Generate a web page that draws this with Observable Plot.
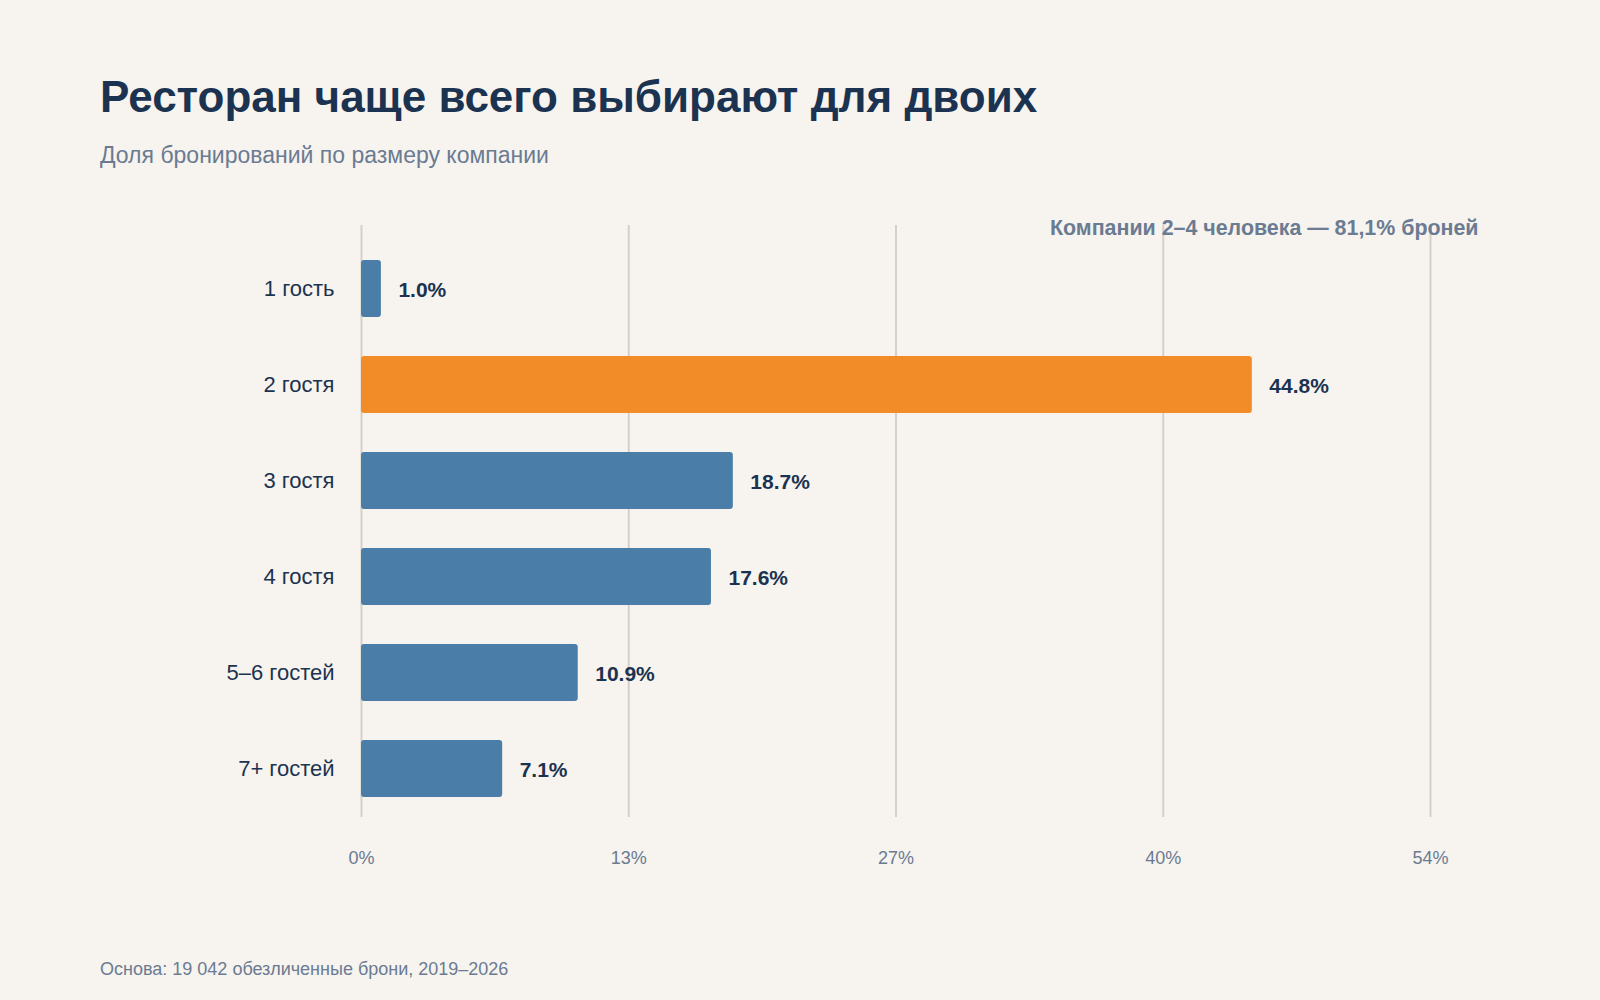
<!DOCTYPE html>
<html lang="ru">
<head>
<meta charset="utf-8">
<script src="https://cdn.jsdelivr.net/npm/d3@7"></script>
<script src="https://cdn.jsdelivr.net/npm/@observablehq/plot@0.6"></script>
<style>
  html, body { margin: 0; padding: 0; background: #f7f3ee; }
  body { width: 1600px; height: 1000px; position: relative; overflow: hidden;
         font-family: Arial, Helvetica, sans-serif; }
  .title { position: absolute; left: 100px; top: 75px; margin: 0; font-size: 44px; line-height: 44px;
           font-weight: 700; color: #1b3350; white-space: nowrap; }
  .subtitle { position: absolute; left: 100px; top: 143.5px; margin: 0; font-size: 23px; line-height: 23px;
              color: #6a7b92; white-space: nowrap; }
  #chart { position: absolute; left: 0; top: 190px; }
  .caption { position: absolute; left: 100px; top: 960px; margin: 0; font-size: 18px; line-height: 18px;
             color: #6a7b92; white-space: nowrap; }
</style>
</head>
<body>
<h1 class="title">Ресторан чаще всего выбирают для двоих</h1>
<div class="subtitle">Доля бронирований по размеру компании</div>
<div id="chart"></div>
<div class="caption">Основа: 19 042 обезличенные брони, 2019–2026</div>
<script>
const categories = ["1 гость", "2 гостя", "3 гостя", "4 гостя", "5–6 гостей", "7+ гостей"];
const shares = [1.0, 44.8, 18.7, 17.6, 10.9, 7.1];
const highlight = "2 гостя";
const tickValues = [0, 13.44, 26.88, 40.32, 53.76];
const tickLabels = ["0%", "13%", "27%", "40%", "54%"];
const annotation = "Компании 2–4 человека — 81,1% броней";

const data = categories.map((c, i) => ({category: c, share: shares[i]}));
const labelOf = new Map(tickValues.map((v, i) => [v, tickLabels[i]]));

const BLUE = "#4a7ea8", ORANGE = "#f28c28", DARK = "#1b3350", GRAY = "#6a7b92", GRID = "#d6d0c8";

const chart = Plot.plot({
  width: 1600,
  height: 700,
  marginLeft: 361,
  marginRight: 170,
  marginTop: 49.7,
  marginBottom: 73,
  style: {background: "transparent", fontFamily: "Arial, Helvetica, sans-serif"},
  x: {domain: [0, tickValues[tickValues.length - 1]], axis: null},
  y: {domain: categories, paddingInner: 0.41, paddingOuter: 0.21, axis: null},
  marks: [
    Plot.gridX(tickValues, {stroke: GRID, strokeOpacity: 1, strokeWidth: 2, insetTop: -14.7}),
    Plot.axisX(tickValues, {tickSize: 0, tickPadding: 34, fontSize: 18, fill: GRAY, label: null,
                            tickFormat: d => labelOf.get(d)}),
    Plot.axisY({tickSize: 0, tickPadding: 27, fontSize: 22, fill: DARK, label: null}),
    Plot.barX(data, {x: "share", y: "category", rx: 3,
                     fill: d => d.category === highlight ? ORANGE : BLUE}),
    Plot.text(data, {x: "share", y: "category", text: d => d.share.toFixed(1) + "%",
                     textAnchor: "start", dx: 17, dy: 1, fontSize: 21, fontWeight: 700, fill: DARK}),
    Plot.text([annotation], {frameAnchor: "top-right", text: d => d, textAnchor: "end",
                             lineAnchor: "bottom", dx: 48, dy: -5.7, fontSize: 21.4, fontWeight: 700, fill: GRAY})
  ]
});
document.getElementById("chart").append(chart);
</script>
</body>
</html>
